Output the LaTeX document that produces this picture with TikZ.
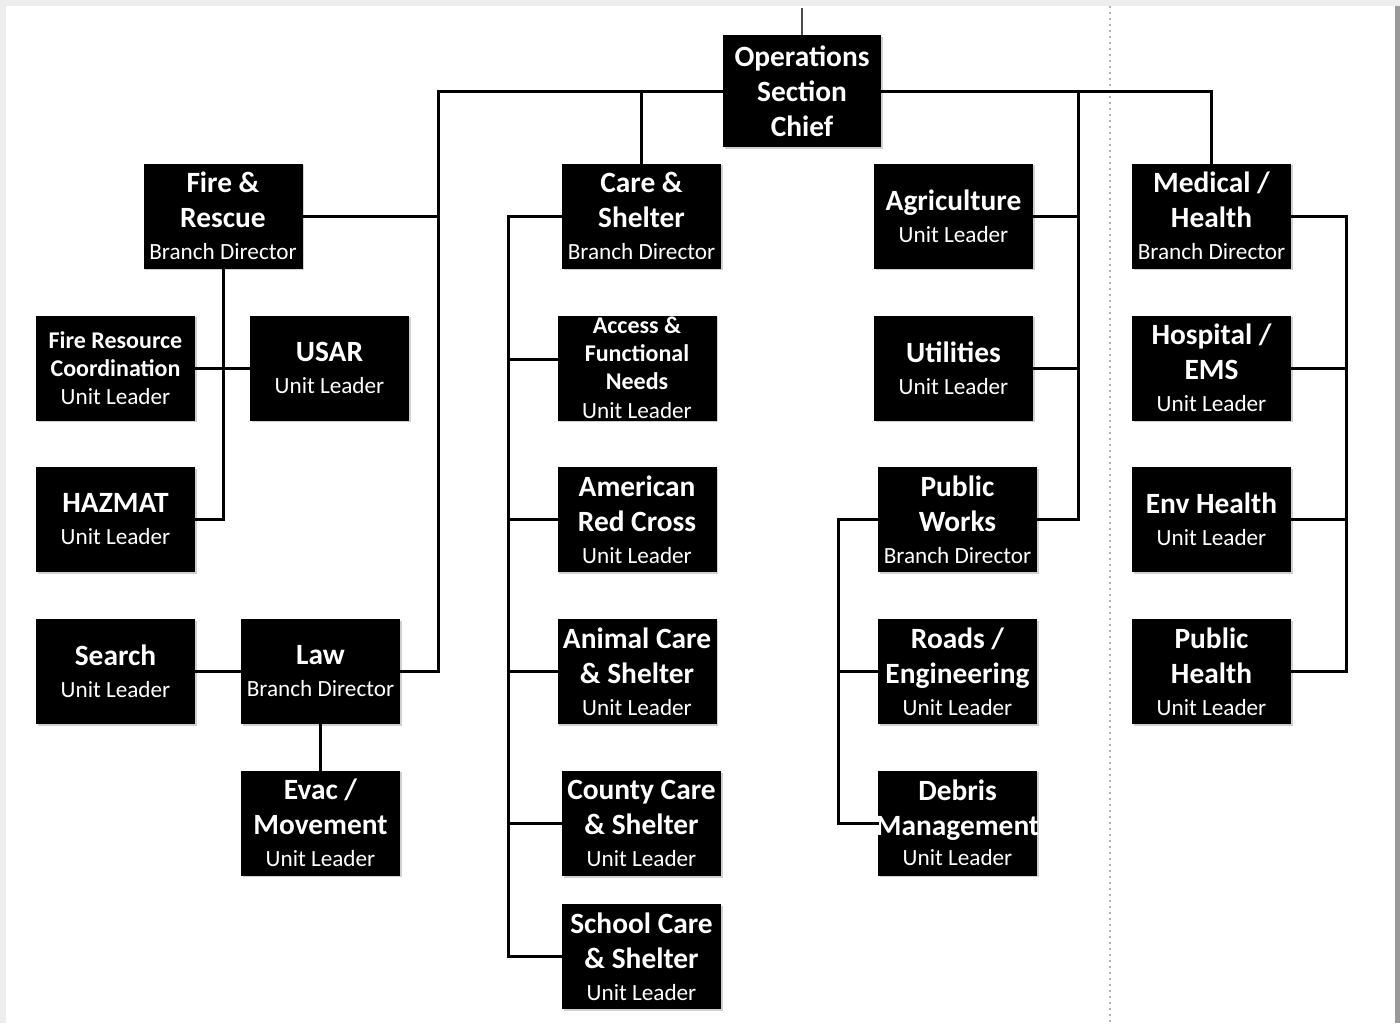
\documentclass[tikz,border=0pt]{standalone}
\usepackage{fontspec}
\setmainfont{Carlito}
\usetikzlibrary{calc,shadows}
\newcommand\ttl[1]{{\fontsize{14.7}{17.5}\selectfont\bfseries #1}}
\newcommand\stl[1]{{\fontsize{12}{14}\selectfont\bfseries #1}}
\newcommand\sub[1]{{\fontsize{11.6}{14}\selectfont\mdseries #1}}
\tikzset{
  box/.style={fill=black, text=white, minimum width=79.5pt, minimum height=52.5pt,
    inner sep=0pt, align=center, font=\fontsize{14.7}{17.5}\selectfont\bfseries,
    drop shadow={shadow xshift=0.8pt, shadow yshift=-0.8pt, fill=black!30, opacity=0.6}},
  conn/.style={line width=1.5pt, line cap=rect},
}
\begin{document}
\begin{tikzpicture}[x=0.5pt, y=-0.5pt]
\useasboundingbox (0,0) rectangle (1400,1023);
\fill[black!7] (0,0) rectangle (1400,1023);
\fill[white] (6,6) rectangle (1395,1023);
\fill[black!40] (1395,6) rectangle (1400,1023);
\draw[black!30, line width=1pt, dotted] (1110,6) -- (1110,1023);

% nodes
\node[box, minimum width=79pt, minimum height=56pt] (ops) at (802,91) {Operations\\Section\\Chief};
\node[box] (fr) at (223,216) {Fire \&\\Rescue\\[-1.5pt]\sub{Branch Director}};
\node[box] (frc) at (115.5,368) {\stl{Fire Resource}\\[-3.5pt]\stl{Coordination}\\[-3.5pt]\sub{Unit Leader}};
\node[box] (usar) at (329.5,368) {USAR\\[-1.5pt]\sub{Unit Leader}};
\node[box] (haz) at (115.5,519.5) {HAZMAT\\[-1.5pt]\sub{Unit Leader}};
\node[box] (search) at (115.5,671.5) {Search\\[-1.5pt]\sub{Unit Leader}};
\node[box] (law) at (320.5,671.5) {Law\\[-1.5pt]\sub{Branch Director}};
\node[box] (evac) at (320.5,823) {Evac /\\Movement\\[-1.5pt]\sub{Unit Leader}};

\node[box] (cs) at (641.5,216) {Care \&\\Shelter\\[-1.5pt]\sub{Branch Director}};
\node[box] (afn) at (637,368) {\stl{Access \&}\\[-3.5pt]\stl{Functional}\\[-3.5pt]\stl{Needs}\\[-3pt]\sub{Unit Leader}};
\node[box] (arc) at (637,519.5) {American\\Red Cross\\[-1.5pt]\sub{Unit Leader}};
\node[box] (acs) at (637,671.5) {Animal Care\\\& Shelter\\[-1.5pt]\sub{Unit Leader}};
\node[box] (ccs) at (641.5,823.5) {County Care\\\& Shelter\\[-1.5pt]\sub{Unit Leader}};
\node[box] (scs) at (641.5,956.5) {School Care\\\& Shelter\\[-1.5pt]\sub{Unit Leader}};

\node[box] (ag) at (953.5,216) {Agriculture\\[-1.5pt]\sub{Unit Leader}};
\node[box] (ut) at (953.5,368) {Utilities\\[-1.5pt]\sub{Unit Leader}};
\node[box] (pw) at (957.5,519.5) {Public\\Works\\[-1.5pt]\sub{Branch Director}};
\node[box] (re) at (957.5,671.5) {Roads /\\Engineering\\[-1.5pt]\sub{Unit Leader}};
\node[box] (dm) at (957.5,823) {Debris\\\makebox[70pt]{\hss Management\hss}\\[-2.5pt]\sub{Unit Leader}};

\node[box] (mh) at (1211.5,216) {Medical /\\Health\\[-1.5pt]\sub{Branch Director}};
\node[box] (he) at (1211.5,368) {Hospital /\\EMS\\[-1.5pt]\sub{Unit Leader}};
\node[box] (eh) at (1211.5,519.5) {Env Health\\[-1.5pt]\sub{Unit Leader}};
\node[box] (ph) at (1211.5,671.5) {Public\\Health\\[-1.5pt]\sub{Unit Leader}};

% junction coordinates
\coordinate (top) at (802,8);
\coordinate (jl) at (438,91);
\coordinate (jr) at (1078,91);
\coordinate (jc) at (508,216);
\coordinate (jp) at (838,519.5);
\coordinate (jm) at (1346,216);

% connectors
\draw[black!70, line width=1pt] (top) -- (ops.north);
\draw[conn] (ops.west) -- (jl) |- (law.east);
\draw[conn] (fr.east) -- (fr.east -| jl);
\draw[conn] (cs.north |- ops.west) -- (cs.north);
\draw[conn] (ops.east) -- (mh.north |- ops.east) -- (mh.north);
\draw[conn] (jr) |- (pw.east);
\draw[conn] (ag.east) -- (ag.east -| jr);
\draw[conn] (ut.east) -- (ut.east -| jr);

\draw[conn] (fr.south) |- (haz.east);
\draw[conn] (frc.east) -- (usar.west);
\draw[conn] (search.east) -- (law.west);
\draw[conn] (law.south) -- (evac.north);

\draw[conn] (cs.west) -- (jc) |- (scs.west);
\draw[conn] ([yshift=4.5pt]afn.west) -- ([yshift=4.5pt]afn.west -| jc);
\draw[conn] (arc.west) -- (arc.west -| jc);
\draw[conn] (acs.west) -- (acs.west -| jc);
\draw[conn] (ccs.west) -- (ccs.west -| jc);

\draw[conn] (pw.west) -- (jp) |- (dm.west);
\draw[conn] (re.west) -- (re.west -| jp);

\draw[conn] (mh.east) -- (jm) |- (ph.east);
\draw[conn] (he.east) -- (he.east -| jm);
\draw[conn] (eh.east) -- (eh.east -| jm);
\end{tikzpicture}
\end{document}
